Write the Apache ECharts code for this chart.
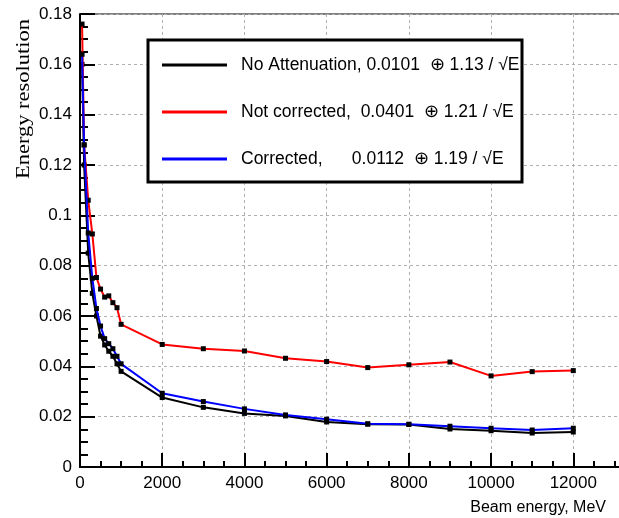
<!DOCTYPE html>
<html>
<head>
<meta charset="utf-8">
<script src="https://cdn.jsdelivr.net/npm/echarts@6/dist/echarts.min.js"></script>
<style>
html,body{margin:0;padding:0;background:#fff;}
#chart{width:619px;height:518px;}
</style>
</head>
<body>
<div id="chart"></div>
<script>
const energies = [50,100,200,300,400,500,600,700,800,900,1000,2000,3000,4000,5000,6000,7000,8000,9000,10000,11000,12000];
const noAttenuation = [0.160,0.120,0.085,0.069,0.060,0.052,0.0485,0.046,0.044,0.041,0.038,0.0276,0.0237,0.0213,0.0203,0.0179,0.0170,0.0169,0.0151,0.0144,0.0135,0.0139];
const notCorrected = [0.176,0.128,0.106,0.0926,0.0753,0.0707,0.0675,0.068,0.0653,0.0633,0.0567,0.0487,0.047,0.0461,0.0432,0.0419,0.0395,0.0406,0.0417,0.0362,0.0379,0.0383];
const corrected = [0.164,0.128,0.093,0.075,0.063,0.056,0.051,0.049,0.047,0.044,0.041,0.0293,0.0260,0.0231,0.0207,0.0190,0.0172,0.0170,0.0162,0.0154,0.0147,0.0154];
const seriesNames = ['No Attenuation, 0.0101  \u2295 1.13 / \u221AE', 'Not corrected,  0.0401  \u2295 1.21 / \u221AE', 'Corrected,      0.0112  \u2295 1.19 / \u221AE'];
const seriesColors = ['#000000', '#ff0000', '#0000ff'];
const xTitle = 'Beam energy, MeV';
const yTitle = 'Energy resolution';

const seriesData = [noAttenuation, notCorrected, corrected];
const FONT = '"Liberation Sans", Arial, sans-serif';

const chart = echarts.init(document.getElementById('chart'), null, {renderer: 'canvas'});
chart.setOption({
  animation: false,
  backgroundColor: '#fff',
  grid: {left: 80, top: 14, width: 575.5, height: 453, containLabel: false, outerBoundsMode: 'none',
    show: true, borderColor: '#000', borderWidth: 1, backgroundColor: 'transparent'},
  xAxis: {
    type: 'value', min: 0, max: 14000, interval: 2000,
    axisLine: {show: true, onZero: false, lineStyle: {color: '#000', width: 2}},
    axisTick: {show: true, inside: true, length: 14, lineStyle: {color: '#000', width: 2}},
    minorTick: {show: true, splitNumber: 4, length: 6, lineStyle: {color: '#000', width: 2}},
    splitLine: {show: true, lineStyle: {color: '#b0b0b0', type: [3, 3], width: 1}},
    axisLabel: {color: '#000', fontSize: 17, fontFamily: FONT, margin: 8,
      formatter: function (v) { return String(v); }}
  },
  yAxis: {
    type: 'value', min: 0, max: 0.18, interval: 0.02,
    axisLine: {show: true, onZero: false, lineStyle: {color: '#000', width: 2}},
    axisTick: {show: true, inside: true, length: 15, lineStyle: {color: '#000', width: 2}},
    minorTick: {show: true, splitNumber: 4, length: 8, lineStyle: {color: '#000', width: 2}},
    splitLine: {show: true, lineStyle: {color: '#b0b0b0', type: [3, 3], width: 1}},
    axisLabel: {color: '#000', fontSize: 17, fontFamily: FONT, margin: 8,
      formatter: function (v) { return String(Math.round(v * 100) / 100); }}
  },
  legend: {
    show: true, orient: 'vertical', left: 162, top: 55,
    itemWidth: 65, itemHeight: 3, itemGap: 27, padding: 0, z: 10,
    textStyle: {color: '#000', fontSize: 17.5, fontFamily: FONT, lineHeight: 20, padding: [0, 0, 0, 9]},
    data: seriesNames.map(function (n, i) { return {name: n, icon: 'rect', itemStyle: {color: seriesColors[i]}}; })
  },
  graphic: [
    {type: 'rect', z: 5, shape: {x: 148, y: 40, width: 374, height: 142}, style: {fill: '#fff', stroke: '#000', lineWidth: 3}},
    {type: 'text', z: 5, x: 606, y: 508, style: {text: xTitle, font: '16px "Liberation Sans", Arial, sans-serif', fill: '#000', align: 'right', verticalAlign: 'middle', textAlign: 'right', textVerticalAlign: 'middle'}},
    {type: 'text', z: 5, x: 24, y: 99, rotation: Math.PI / 2, scaleX: 1.25, style: {text: yTitle, font: '18px "Liberation Serif", "Times New Roman", serif', fill: '#000', align: 'center', verticalAlign: 'middle', textAlign: 'center', textVerticalAlign: 'middle'}}
  ],
  series: seriesNames.map(function (n, i) {
    return {
      name: n, type: 'line', z: 2 + i,
      data: energies.map(function (e, j) { return [e, seriesData[i][j]]; }),
      symbol: 'rect', symbolSize: 5, showAllSymbol: true,
      itemStyle: {color: '#000'},
      lineStyle: {color: seriesColors[i], width: 2}
    };
  })
});
</script>
</body>
</html>
